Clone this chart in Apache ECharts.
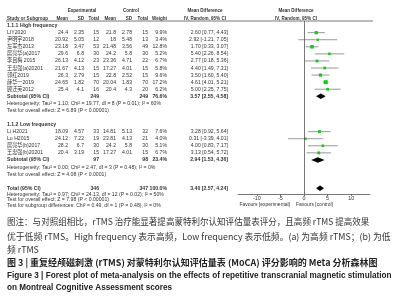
<!DOCTYPE html>
<html><head><meta charset="utf-8">
<script src="https://cdn.jsdelivr.net/npm/echarts@6/dist/echarts.min.js"></script>
<style>html,body{margin:0;padding:0;background:#fff}#c{width:400px;height:300px}</style>
</head><body><div id="c"></div>
<script>
// ---------- data ----------
const highStudies = ['LIY2020','尹明宇2018','左军杰2013','居亮华(a)2017','李且梅 2015','王忠强(a)20201','郭红2019','薛华一2019','顾迁芙2012'];
const highExpMean = [24.4,20.92,23.18,29.6,26.13,21.67,26.3,24.65,25.4];
const highExpSD   = [2.35,5.05,3.47,6.8,4.12,4.13,2.79,1.82,4.1];
const highExpN    = [15,12,53,30,23,15,15,70,16];
const highCtlMean = [21.8,18,21.48,24.2,23.36,17.27,22.8,20.04,20.4];
const highCtlSD   = [2.78,5.48,3.56,5.8,4.71,4.01,2.52,1.83,4.3];
const highCtlN    = [15,13,49,30,22,15,15,70,20];
const highWeight  = [9.9,3.4,12.8,5.2,6.7,5.8,9.6,17.2,6.2];
const highMD      = [2.60,2.92,1.70,5.40,2.77,4.40,3.50,4.61,5.00];
const highLo      = [0.77,-1.21,0.33,2.26,0.18,1.49,1.60,4.01,2.25];
const highHi      = [4.43,7.05,3.07,8.54,5.36,7.31,5.40,5.21,7.75];

const lowStudies = ['Li H2021','Lu H2015','居亮华(b)2017','王忠强(b)20201'];
const lowExpMean = [18.09,24.12,28.2,20.4];
const lowExpSD   = [4.57,7.22,6.7,3.19];
const lowExpN    = [33,19,30,15];
const lowCtlMean = [14.81,23.81,24.2,17.27];
const lowCtlSD   = [5.13,4.13,5.8,4.01];
const lowCtlN    = [32,21,30,15];
const lowWeight  = [7.6,4.0,5.1,6.7];
const lowMD      = [3.28,0.31,4.00,3.13];
const lowLo      = [0.92,-3.39,0.83,0.54];
const lowHi      = [5.64,4.01,7.17,5.72];

const subgroupNames = ['1.1.1 High frequency','1.1.2 Low frequency'];
const subExpN   = [249,97];
const subCtlN   = [249,98];
const subWeight = [76.6,23.4];
const subMD     = [3.57,2.94];
const subLo     = [2.55,1.53];
const subHi     = [4.58,4.36];
const subHet    = ['Heterogeneity: Tau² = 1.10; Chi² = 19.77, df = 8 (P = 0.01); I² = 60%',
                   'Heterogeneity: Tau² = 0.00; Chi² = 2.47, df = 3 (P = 0.48); I² = 0%'];
const subTest   = ['Test for overall effect: Z = 6.89 (P < 0.00001)',
                   'Test for overall effect: Z = 4.08 (P < 0.0001)'];

const totalExpN = 346, totalCtlN = 347, totalWeight = 100.0;
const totalMD = 3.40, totalLo = 2.57, totalHi = 4.24;
const totalNotes = ['Heterogeneity: Tau² = 0.97; Chi² = 24.13, df = 12 (P = 0.02); I² = 50%',
                    'Test for overall effect: Z = 7.98 (P < 0.00001)',
                    'Test for subgroup differences: Chi² = 0.49, df = 1 (P = 0.48), I² = 0%'];

const axisTicks = [-10,-5,0,5,10];
const favourLabels = ['Favours [experimental]','Favours [control]'];

const captionLines = [
  '图注：与对照组相比，rTMS 治疗能显著提高蒙特利尔认知评估量表评分，且高频 rTMS 提高效果',
  '优于低频 rTMS。High frequency 表示高频，Low frequency 表示低频。(a) 为高频 rTMS；(b) 为低',
  '频 rTMS',
  '图 3 | 重复经颅磁刺激 (rTMS) 对蒙特利尔认知评估量表 (MoCA) 评分影响的 Meta 分析森林图',
  'Figure 3 | Forest plot of meta-analysis on the effects of repetitive transcranial magnetic stimulation',
  'on Montreal Cognitive Assessment scores'
];

// ---------- build rows ----------
const groups = [
  {names:highStudies, em:highExpMean, es:highExpSD, en:highExpN, cm:highCtlMean, cs:highCtlSD, cn:highCtlN, w:highWeight, md:highMD, lo:highLo, hi:highHi},
  {names:lowStudies, em:lowExpMean, es:lowExpSD, en:lowExpN, cm:lowCtlMean, cs:lowCtlSD, cn:lowCtlN, w:lowWeight, md:lowMD, lo:lowLo, hi:lowHi}
];
const rows = [];
groups.forEach((g, gi) => {
  rows.push({kind:'head', text:subgroupNames[gi]});
  g.names.forEach((n, i) => rows.push({kind:'study', name:n, em:g.em[i], es:g.es[i], en:g.en[i],
    cm:g.cm[i], cs:g.cs[i], cn:g.cn[i], w:g.w[i], md:g.md[i], lo:g.lo[i], hi:g.hi[i]}));
  rows.push({kind:'sub', name:'Subtotal (95% CI)', en:subExpN[gi], cn:subCtlN[gi], w:subWeight[gi], md:subMD[gi], lo:subLo[gi], hi:subHi[gi]});
  rows.push({kind:'note', text:subHet[gi]});
  rows.push({kind:'note', text:subTest[gi]});
  rows.push({kind:'blank'});
});
rows.push({kind:'total', name:'Total (95% CI)', en:totalExpN, cn:totalCtlN, w:totalWeight, md:totalMD, lo:totalLo, hi:totalHi});

const studyData = [], diamondData = [];
rows.forEach((r, i) => {
  if (r.kind === 'study') studyData.push([r.md, r.lo, r.hi, i, r.w]);
  if (r.kind === 'sub' || r.kind === 'total') diamondData.push([r.md, r.lo, r.hi, i]);
});

// ---------- layout ----------
const ROW0 = 25.6, DY = 7.07, GTOP = 21, GBOT = 194;
const GLEFT = 238, GRIGHT = 370;
const FONT = '"Liberation Sans", Arial, sans-serif';
const FS = 5.6, HFS = 5.4;
const SX = 0.92, HSX = 0.84;
const TXT = '#333';

const chart = echarts.init(document.getElementById('c'), null, {renderer:'canvas'});
chart.setOption({
  animation:false,
  backgroundColor:'#fff',
  grid:{left:GLEFT, top:GTOP, width:GRIGHT-GLEFT, height:GBOT-GTOP, containLabel:false},
  xAxis:{type:'value', min:-14, max:14,
    axisLine:{show:true, onZero:false, lineStyle:{color:'#555', width:0.8}},
    axisTick:{show:true, length:2, customValues:axisTicks, lineStyle:{color:'#555', width:0.8}},
    axisLabel:{show:true, customValues:axisTicks, fontSize:5.4, fontFamily:FONT, color:TXT, margin:2.5},
    splitLine:{show:false}},
  yAxis:{type:'value', inverse:true, show:false,
    min:(GTOP-ROW0)/DY, max:(GBOT-ROW0)/DY, splitLine:{show:false}},
  series:[
    {type:'custom', name:'studies', clip:false, data:studyData,
      encode:{x:[0,1,2], y:3},
      renderItem:(params, api) => {
        const c = api.coord([api.value(0), api.value(3)]);
        const a = api.coord([api.value(1), api.value(3)]);
        const b = api.coord([api.value(2), api.value(3)]);
        const s = 1.0 + Math.sqrt(api.value(4)) * 0.72;
        return {type:'group', children:[
          {type:'line', shape:{x1:a[0], y1:a[1], x2:b[0], y2:b[1]}, style:{stroke:'#8c8c8c', lineWidth:0.9}},
          {type:'rect', shape:{x:c[0]-s/2, y:c[1]-s/2, width:s, height:s}, style:{fill:'#1fc41f'}}
        ]};
      },
      markLine:{silent:true, symbol:'none', label:{show:false},
        lineStyle:{color:'#555', width:0.8, type:'solid'}, data:[{xAxis:0}]}
    },
    {type:'custom', name:'diamonds', clip:false, data:diamondData,
      encode:{x:[0,1,2], y:3},
      renderItem:(params, api) => {
        const c = api.coord([api.value(0), api.value(3)]);
        const a = api.coord([api.value(1), api.value(3)]);
        const b = api.coord([api.value(2), api.value(3)]);
        const h = 2.7;
        return {type:'polygon', shape:{points:[[a[0],c[1]],[c[0],c[1]-h],[b[0],c[1]],[c[0],c[1]+h]]},
          style:{fill:'#000'}};
      }
    }
  ]
});

// ---------- table text ----------
const rowY = i => chart.convertToPixel({yAxisIndex:0}, i);
const zeroX = chart.convertToPixel({xAxisIndex:0}, 0);
const col = {expMean:68, expSD:84, expN:99, ctlMean:116, ctlSD:132, ctlN:148, weight:167, md:228};
const g = [];
function t(text, x, y, align, bold, size, family, color, sx) {
  g.push({type:'text', x:x, y:y, scaleX:sx||SX, silent:true, style:{text:String(text), fill:color||TXT,
    fontSize:size||FS, fontFamily:family||FONT, fontWeight:bold?'bold':'normal',
    align:align||'left', verticalAlign:'middle'}});
}
function th(text, x, y, align) { t(text, x, y, align, true, HFS, FONT, TXT, HSX); }
// headers
const h1 = 11, h2 = 18.3;
th('Experimental', 82, h1, 'center');
th('Control', 131, h1, 'center');
th('Mean Difference', 205, h1, 'center');
th('Mean Difference', 296, h1, 'center');
th('Study or Subgroup', 7, h2, 'left');
th('Mean', col.expMean, h2, 'right');
th('SD', col.expSD, h2, 'right');
th('Total', col.expN, h2, 'right');
th('Mean', col.ctlMean, h2, 'right');
th('SD', col.ctlSD, h2, 'right');
th('Total', col.ctlN, h2, 'right');
th('Weight', col.weight, h2, 'right');
th('IV, Random, 95% CI', 205, h2, 'center');
th('IV, Random, 95% CI', 296, h2, 'center');
g.push({type:'line', silent:true, shape:{x1:6, y1:GTOP, x2:373, y2:GTOP}, style:{stroke:'#555', lineWidth:0.8}});

const ci = (m, l, h) => m.toFixed(2) + ' [' + l.toFixed(2) + ', ' + h.toFixed(2) + ']';
rows.forEach((r, i) => {
  const y = rowY(i);
  if (r.kind === 'head') t(r.text, 7, y, 'left', true);
  else if (r.kind === 'note') t(r.text, 7, y, 'left', false);
  else if (r.kind === 'study') {
    t(r.name, 7, y, 'left', false, FS, '"Liberation Sans", "Noto Sans CJK SC", sans-serif');
    t(r.em, col.expMean, y, 'right'); t(r.es, col.expSD, y, 'right'); t(r.en, col.expN, y, 'right');
    t(r.cm, col.ctlMean, y, 'right'); t(r.cs, col.ctlSD, y, 'right'); t(r.cn, col.ctlN, y, 'right');
    t(r.w.toFixed(1) + '%', col.weight, y, 'right');
    t(ci(r.md, r.lo, r.hi), col.md, y, 'right');
  } else if (r.kind === 'sub' || r.kind === 'total') {
    t(r.name, 7, y, 'left', true);
    t(r.en, col.expN, y, 'right', true); t(r.cn, col.ctlN, y, 'right', true);
    t(r.w.toFixed(1) + '%', col.weight, y, 'right', true);
    t(ci(r.md, r.lo, r.hi), col.md, y, 'right', true);
  }
});
const noteY = [194, 199.5, 205];
totalNotes.forEach((s, i) => t(s, 7, noteY[i], 'left', false));
t(favourLabels[0], zeroX - 14, 204.5, 'right', false, 5.4);
t(favourLabels[1], zeroX - 8, 204.5, 'left', false, 5.4);

// caption
const CJK = '"Noto Sans CJK SC", "Liberation Sans", sans-serif';
const capY = [222, 236.5, 250, 263, 276, 288];
const capSX = [0.97, 1, 1, 1, 1, 1];
captionLines.forEach((s, i) => {
  if (i < 3) t(s, 7, capY[i], 'left', false, 8.8, CJK, '#333', capSX[i]);
  else if (i === 3) t(s, 7, capY[i], 'left', true, 9.0, CJK, '#222', 1);
  else t(s, 7, capY[i], 'left', true, 8.2, FONT, '#222', 1);
});
chart.setOption({graphic:{elements:g}});
</script>
</body></html>
